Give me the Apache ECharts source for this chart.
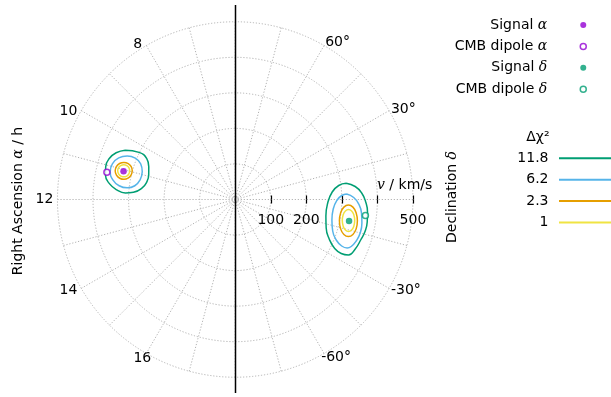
<!DOCTYPE html>
<html><head><meta charset="utf-8">
<script src="https://cdn.jsdelivr.net/npm/echarts@6/dist/echarts.min.js"></script>
<style>html,body{margin:0;padding:0;background:#fff}#c{width:611px;height:397px}</style>
</head><body><div id="c"></div>
<script>
// ---- data (velocity v in km/s, right ascension in hours, declination in degrees) ----
const raTickHours = [8, 10, 12, 14, 16];
const decTickDeg = [60, 30, -30, -60];
const speedTicks = [100, 200, 500];
const contourLevels = ['11.8', '6.2', '2.3', '1'];
const pointNames = ['Signal α', 'CMB dipole α', 'Signal δ', 'CMB dipole δ'];

const signalRA = [324, 11.05];
const cmbRA = [369, 11.2];
const signalDec = [326, -10.7];
const cmbDec = [369, -7];

const raContour118 = [[339.1,10.39],[301.1,10.26],[273.9,10.35],[259.9,10.62],[252.8,10.95],[253.5,11.25],[264.3,11.54],[286.9,11.73],[309.5,11.77],[334.2,11.69],[356.7,11.52],[371.4,11.29],[375.8,11.05],[372.1,10.79],[359.8,10.57]];
const raContour62 = [[272.9,10.89],[284.3,10.62],[304.3,10.50],[327.6,10.54],[347.9,10.69],[359.8,10.92],[360.1,11.16],[348.7,11.39],[328.7,11.55],[305.4,11.59],[285.1,11.48],[273.2,11.22]];
const raContour23 = [[300.7,10.962],[306.8,10.83],[317.5,10.761],[329.9,10.77],[340.6,10.847],[346.9,10.967],[347.1,11.104],[341.0,11.226],[330.3,11.304],[317.9,11.316],[307.2,11.25],[300.9,11.12]];
const raContour1 = [[307.6,10.986],[311.8,10.893],[319.3,10.844],[328.1,10.848],[335.7,10.901],[340.2,10.987],[340.2,11.085],[336.0,11.172],[328.5,11.227],[319.7,11.233],[312.1,11.186],[307.6,11.095]];

const decContour118 = [[315.6,8.3],[339.5,6.18],[356.3,2.94],[367.2,-1.1],[373.8,-5.4],[376.7,-9.67],[376.3,-13.62],[370.9,-17.89],[365.2,-22.42],[354.9,-26.1],[334.6,-26.99],[312.0,-26.22],[286.8,-22.79],[268.2,-17.39],[259.3,-10.31],[260.4,-2.17],[273.7,4.42],[293.8,7.7]];
const decContour62 = [[314.0,2.82],[333.4,0.97],[347.6,-2.09],[357.3,-6.1],[362.5,-10.51],[364.0,-15.0],[359.8,-18.93],[352.1,-22.06],[343.3,-23.41],[326.9,-23.59],[306.1,-21.85],[288.2,-17.9],[278.1,-11.97],[277.0,-5.54],[286.9,-0.28],[299.8,2.15]];
const decContour23 = [[348.9,-9.89],[342.4,-6.32],[331.8,-3.70],[318.8,-2.78],[306.5,-4.01],[298.9,-7.25],[299.2,-11.55],[307.6,-15.49],[321.2,-17.84],[335.1,-18.14],[345.4,-16.55],[350.1,-13.57]];
const decContour1 = [[341.3,-9.97],[336.6,-7.44],[329.0,-5.63],[319.9,-5.04],[311.7,-5.94],[306.7,-8.17],[307.0,-11.09],[312.6,-13.79],[321.7,-15.49],[331.2,-15.77],[338.5,-14.70],[342.0,-12.59]];

// ---- build ----
const raContours = [raContour118, raContour62, raContour23, raContour1];
const decContours = [decContour118, decContour62, decContour23, decContour1];
const levelColors = ['#009e73', '#56b4e9', '#e69f00', '#f0e442'];
const PURPLE = '#9400d3', GREEN = '#009e73';
const FONT = 'DejaVu Sans';
const hourToAngle = h => 15 * h;
const decToAngle = d => ((d % 360) + 360) % 360;
const closeLoop = arr => arr.concat([arr[0]]);

const series = [];
[raContours, decContours].forEach((set, k) => {
  contourLevels.forEach((lvl, i) => {
    series.push({
      name: lvl, type: 'line', coordinateSystem: 'polar', polarIndex: 0,
      data: closeLoop(set[i]).map(p => [p[0], k === 0 ? hourToAngle(p[1]) : decToAngle(p[1])]),
      smooth: 0.5, symbol: 'none', z: 3,
      lineStyle: { color: levelColors[i], width: 1.5 }, itemStyle: { color: levelColors[i] }
    });
  });
});
const pts = [
  [pointNames[0], [signalRA[0], hourToAngle(signalRA[1])], PURPLE, true],
  [pointNames[1], [cmbRA[0], hourToAngle(cmbRA[1])], PURPLE, false],
  [pointNames[2], [signalDec[0], decToAngle(signalDec[1])], GREEN, true],
  [pointNames[3], [cmbDec[0], decToAngle(cmbDec[1])], GREEN, false]
];
pts.forEach(([name, d, col, filled]) => {
  series.push({
    name, type: 'scatter', coordinateSystem: 'polar', polarIndex: 0, z: 5,
    data: [d], symbol: 'circle', symbolSize: filled ? 6.5 : 6,
    itemStyle: filled ? { color: col, borderWidth: 0 } : { color: '#fff', borderColor: col, borderWidth: 1.5 }
  });
});

const grid = { color: '#b3b3b3', type: [1.2, 1.8], width: 1 };
const CX = 235.2, CY = 199.5, R = 177.75;
const tt = (w, pad) => ({ width: w, padding: pad, lineHeight: 2, fontSize: 14, fontFamily: FONT, color: '#000', align: 'center' });
// label style per tick (text placement only)
const labelStyleKey = { 8: 'h8', 10: 'h10', 12: 'h12', 14: 'h14', 16: 'h16', 60: 'd60', 30: 'd30', '-30': 'dm30', '-60': 'dm60' };

const chart = echarts.init(document.getElementById('c'), null, { renderer: 'canvas' });
chart.setOption({
  animation: false,
  backgroundColor: '#fff',
  polar: [{ center: [CX, CY], radius: R }, { center: [CX, CY], radius: R }],
  angleAxis: [{
    polarIndex: 0, type: 'value', min: 0, max: 360, interval: 15, startAngle: 0, clockwise: false,
    axisLine: { show: false }, axisTick: { show: false },
    splitLine: { show: true, lineStyle: grid },
    axisLabel: {
      margin: 2,
      formatter: v => {
        if (v % 30 !== 0) return '';
        if (v > 90 && v < 270) {
          const h = v / 15;
          return raTickHours.includes(h) ? '{' + labelStyleKey[h] + '|' + h + '}' : '';
        }
        const d = v > 270 ? v - 360 : v;
        return decTickDeg.includes(d) ? '{' + labelStyleKey[d] + '|' + d + '°}' : '';
      },
      rich: {
        h8: tt(15, [0, 0, -3, 0]),
        h10: tt(22, [0, 0, -5, 0]),
        h12: tt(22, [0, 0, 0, 0]),
        h14: tt(22, [0, 0, 0, 0]),
        h16: tt(6, [5, 0, 0, 0]),
        d60: tt(25, [0, 0, 0, 0]),
        d30: tt(25, [0, 0, -1, 0]),
        dm30: tt(30, [0, 0, 0, 0]),
        dm60: tt(22, [3, 0, 0, 0])
      }
    }
  }, {
    polarIndex: 1, type: 'value', min: 0, max: 360, startAngle: 0, clockwise: false,
    axisLine: { show: false }, axisTick: { show: false }, axisLabel: { show: false }, splitLine: { show: false }
  }],
  radiusAxis: [{
    polarIndex: 0, type: 'value', min: 0, max: 500, interval: 100,
    axisLine: { show: false },
    axisTick: { show: true, length: 4, lineStyle: { color: '#000', width: 1.2 } },
    splitLine: { show: true, lineStyle: grid },
    axisLabel: {
      margin: -20.5, verticalAlign: 'middle', fontSize: 14, fontFamily: FONT, color: '#000',
      formatter: v => speedTicks.includes(v) ? String(v) : ''
    }
  }, {
    polarIndex: 1, type: 'value', min: 0, max: 500, interval: 100,
    axisLine: { show: false }, axisLabel: { show: false }, splitLine: { show: false },
    axisTick: { show: true, length: -4, lineStyle: { color: '#000', width: 1.2 } }
  }],
  legend: [{
    data: pointNames, orient: 'vertical', align: 'right', right: 24, top: 17, padding: 0,
    itemWidth: 6, itemHeight: 6, itemGap: 5.4, selectedMode: false,
    itemStyle: { borderWidth: 1.5 },
    formatter: n => n.replace(/([αδ])/, '{g|$1}'),
    textStyle: { fontSize: 14, fontFamily: FONT, color: '#000', lineHeight: 16, padding: [0, 28, 0, 0],
      rich: { g: { fontFamily: 'DejaVu Serif', fontStyle: 'italic', fontSize: 14, lineHeight: 16 } } }
  }, {
    data: contourLevels, orient: 'vertical', align: 'right', right: -4, top: 150.3, padding: 0,
    itemWidth: 55, itemHeight: 1, itemGap: 5.4, selectedMode: false,
    itemStyle: { opacity: 0 },
    textStyle: { fontSize: 14, fontFamily: FONT, color: '#000', lineHeight: 16, padding: [0, 5.5, 0, 0] }
  }],
  graphic: [
    { type: 'line', z: 10, shape: { x1: 235.5, y1: 5, x2: 235.5, y2: 393 }, style: { stroke: '#000', lineWidth: 1.5 } },
    { type: 'text', z: 10, x: 377, y: 185, style: { text: '{i|v} / km/s', fontSize: 14, fontFamily: FONT, fill: '#000', align: 'left', verticalAlign: 'middle',
      rich: { i: { fontFamily: 'DejaVu Serif', fontStyle: 'italic', fontSize: 14 } } } },
    { type: 'text', z: 10, x: 18, y: 201, rotation: Math.PI / 2, style: { text: 'Right Ascension {i|α} / h', fontSize: 14, fontFamily: FONT, fill: '#000', align: 'center', verticalAlign: 'middle',
      rich: { i: { fontFamily: 'DejaVu Serif', fontStyle: 'italic', fontSize: 14 } } } },
    { type: 'text', z: 10, x: 452, y: 197, rotation: Math.PI / 2, style: { text: 'Declination {i|δ}', fontSize: 14, fontFamily: FONT, fill: '#000', align: 'center', verticalAlign: 'middle',
      rich: { i: { fontFamily: 'DejaVu Serif', fontStyle: 'italic', fontSize: 14 } } } },
    { type: 'text', z: 10, x: 549.5, y: 137, style: { text: 'Δχ²', fontSize: 14, fontFamily: FONT, fill: '#000', align: 'right', verticalAlign: 'middle' } }
  ],
  series
});
</script></body></html>
